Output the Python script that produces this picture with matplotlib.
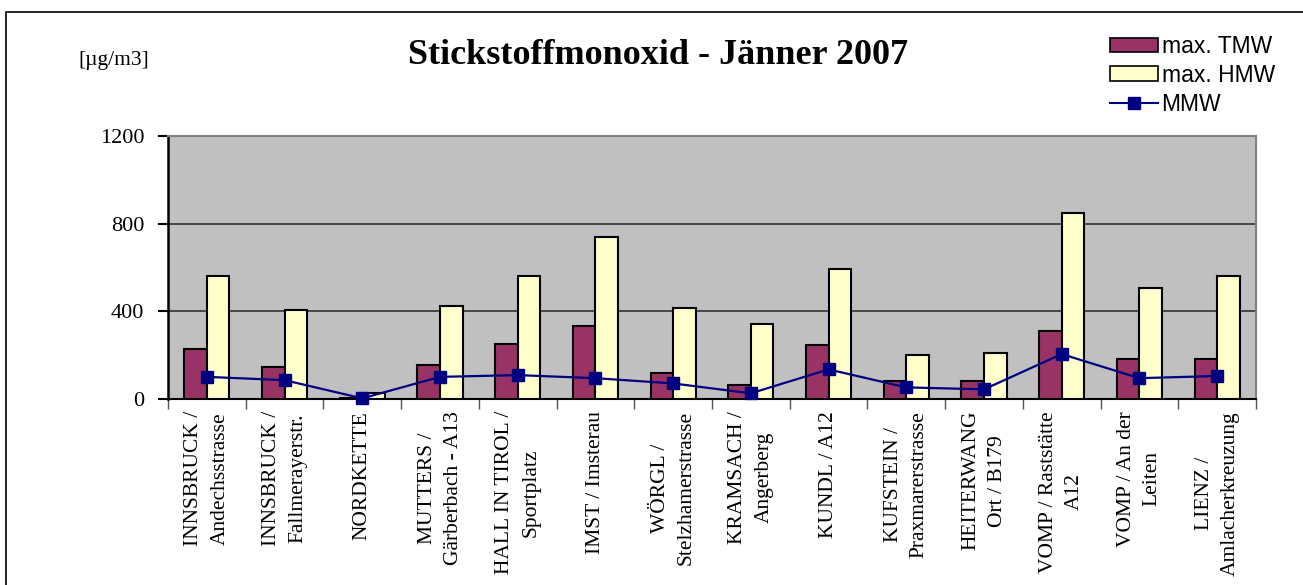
import matplotlib
matplotlib.use("Agg")
import matplotlib.pyplot as plt
import numpy as np
from matplotlib.patches import Rectangle
from matplotlib.lines import Line2D

stations = [
    "INNSBRUCK /\nAndechsstrasse",
    "INNSBRUCK /\nFallmerayerstr.",
    "NORDKETTE",
    "MUTTERS /\nGärberbach - A13",
    "HALL IN TIROL /\nSportplatz",
    "IMST / Imsterau",
    "WÖRGL /\nStelzhamerstrasse",
    "KRAMSACH /\nAngerberg",
    "KUNDL / A12",
    "KUFSTEIN /\nPraxmarerstrasse",
    "HEITERWANG\nOrt / B179",
    "VOMP / Raststätte\nA12",
    "VOMP / An der\nLeiten",
    "LIENZ /\nAmlacherkreuzung",
]
max_tmw = [227, 147, 4, 155, 253, 333, 120, 64, 245, 83, 83, 308, 182, 182]
max_hmw = [559, 405, 29, 424, 559, 738, 415, 344, 595, 200, 210, 847, 505, 559]
mmw = [101, 86, 3, 101, 109, 95, 71, 26, 135, 53, 44, 205, 95, 105]
yticks = [0, 400, 800, 1200]

W, H = 1303, 585
fig = plt.figure(figsize=(W / 100, H / 100), dpi=100)
serif = ["Liberation Serif", "DejaVu Serif"]
sans = ["Liberation Sans", "DejaVu Sans"]

# outer frame
fig.patches.append(Rectangle((6 / W, -0.05), 1.2, 1 - 12 / H + 0.05,
                             transform=fig.transFigure, fill=False,
                             edgecolor="black", linewidth=1.2))

ax = fig.add_axes([168 / W, 1 - 399 / H, (1256 - 168) / W, (399 - 136) / H])
ax.set_facecolor("#C0C0C0")
x = np.arange(len(stations))
bw = 0.29
ax.bar(x - bw / 2, max_tmw, bw, color="#993366", edgecolor="black", linewidth=1.5, zorder=3)
ax.bar(x + bw / 2, max_hmw, bw, color="#FFFFCC", edgecolor="black", linewidth=1.5, zorder=3)
ax.plot(x, mmw, color="#000080", linewidth=1.6, marker="s", markersize=9,
        markerfacecolor="#000080", markeredgecolor="#000080", zorder=4, clip_on=False)

ax.set_xlim(-0.5, len(stations) - 0.5)
ax.set_ylim(0, 1200)
ax.set_yticks(yticks)
ax.set_yticklabels([str(v) for v in yticks], family=serif, fontsize=16)
ax.yaxis.grid(True, color="#333333", linewidth=1.2, zorder=1)
ax.set_axisbelow(True)

ax.set_xticks(np.arange(len(stations) + 1) - 0.5)
ax.set_xticklabels([])
ax.tick_params(axis="x", direction="out", length=7, width=1, color="#555555")
ax.tick_params(axis="y", direction="out", length=7, width=1.5, pad=10)
for s in ("top", "right"):
    ax.spines[s].set_color("#808080")
    ax.spines[s].set_linewidth(1.5)
ax.spines["left"].set_linewidth(1.8)
ax.spines["bottom"].set_linewidth(1.5)

for i, lab in enumerate(stations):
    ax.annotate(lab, xy=(i, 0), xycoords=("data", "axes fraction"),
                xytext=(0, -12), textcoords="offset pixels",
                rotation=90, ha="center", va="top", multialignment="center",
                family=serif, fontsize=15.5, linespacing=1.5, annotation_clip=False)

fig.text(658 / W, 1 - 56 / H, "Stickstoffmonoxid - Jänner 2007", family=serif,
         fontsize=26, fontweight="bold", ha="center", va="center")
fig.text(114 / W, 1 - 61 / H, "[µg/m3]", family=serif, fontsize=15.5,
         ha="center", va="center")

handles = [
    Rectangle((0, 0), 1, 1, facecolor="#993366", edgecolor="black", linewidth=1.2),
    Rectangle((0, 0), 1, 1, facecolor="#FFFFCC", edgecolor="black", linewidth=1.2),
    Line2D([], [], color="#000080", linewidth=1.5, marker="s", markersize=9,
           markerfacecolor="#000080"),
]
leg = fig.legend(handles, ["max. TMW", "max. HMW", "MMW"], loc="upper left",
                 bbox_to_anchor=(1094 / W, 1 - 19 / H), frameon=False,
                 prop={"family": sans, "size": 16.5}, handlelength=2.1,
                 handleheight=0.6, handletextpad=0.15, labelspacing=0.25,
                 borderpad=0.2)

fig.savefig("out.png", dpi=100)
